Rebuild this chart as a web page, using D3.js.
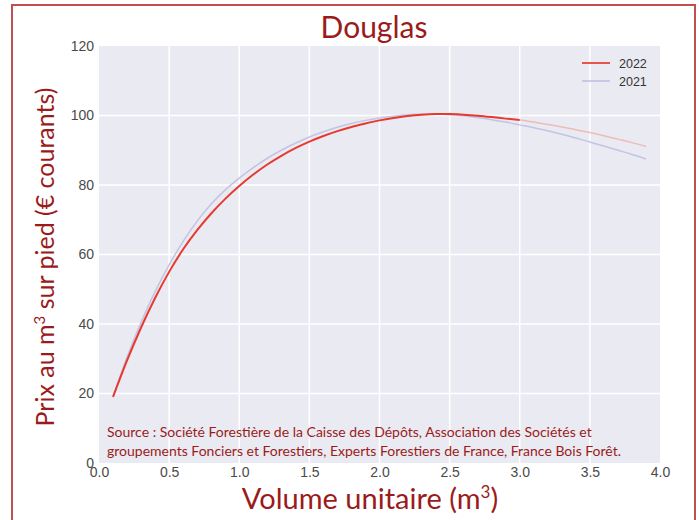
<html>
  <head>
    <script src="https://cdnjs.cloudflare.com/ajax/libs/d3/7.8.5/d3.min.js"></script>
    <style>
      body { margin: 0; background: #fff; }
      .tick text { font-family: "Liberation Sans", Arial, sans-serif; font-size: 14px; fill: #4a4a4a; }
      .dark { fill: #9b1b1b; font-family: Lato, "Open Sans", sans-serif; }
    </style>
  </head>
  <body>
    <div id="chart"></div>
    <script>
      const volumes = [0.1, 0.2, 0.3, 0.4, 0.5, 0.6, 0.7, 0.8, 0.9, 1.0, 1.1, 1.2, 1.3, 1.4, 1.5, 1.6, 1.7, 1.8, 1.9, 2.0,
        2.1, 2.2, 2.3, 2.4, 2.5, 2.6, 2.7, 2.8, 2.9, 3.0, 3.1, 3.2, 3.3, 3.4, 3.5, 3.6, 3.7, 3.8, 3.9];
      const prices2022 = [19, 29.5, 39, 47.5, 55, 61.5, 67, 71.8, 76, 79.7, 83, 85.9, 88.4, 90.6, 92.5, 94.1, 95.5, 96.7, 97.7, 98.6,
        99.3, 99.85, 100.25, 100.45, 100.45, 100.25, 99.95, 99.55, 99.1, 98.7, 98.1, 97.4, 96.7, 95.9, 95.1, 94.2, 93.2, 92.2, 91.1];
      const prices2021 = [19, 30.5, 40.5, 49.3, 57, 63.8, 69.6, 74.5, 78.6, 82, 85, 87.7, 90, 92, 93.8, 95.3, 96.6, 97.7, 98.6, 99.3,
        99.8, 100.2, 100.4, 100.4, 100.2, 99.9, 99.4, 98.8, 98.1, 97.3, 96.5, 95.6, 94.6, 93.5, 92.4, 91.2, 90, 88.8, 87.5];
      const xTicks = [0, 0.5, 1, 1.5, 2, 2.5, 3, 3.5, 4];
      const yTicks = [0, 20, 40, 60, 80, 100, 120];
      const solidUntil = 3.0;

      const w = 699, h = 520;
      const svg = d3.select("#chart").append("svg").attr("width", w).attr("height", h);

      // red frame
      svg.append("rect").attr("x", 12).attr("y", 5).attr("width", 683).attr("height", 530)
        .attr("fill", "none").attr("stroke", "#c0504d").attr("stroke-width", 2);

      const x = d3.scaleLinear().domain([0, 4]).range([99, 660]);
      const y = d3.scaleLinear().domain([0, 120]).range([463, 46]);

      svg.append("rect").attr("x", x(0)).attr("y", y(120))
        .attr("width", x(4) - x(0)).attr("height", y(0) - y(120)).attr("fill", "#eaeaf2");

      // grid
      svg.append("g").selectAll("line").data(xTicks.slice(1, -1)).enter().append("line")
        .attr("x1", d => x(d)).attr("x2", d => x(d)).attr("y1", y(120)).attr("y2", y(0))
        .attr("stroke", "#fff").attr("stroke-width", 1.5);
      svg.append("g").selectAll("line").data(yTicks.slice(1, -1)).enter().append("line")
        .attr("x1", x(0)).attr("x2", x(4)).attr("y1", d => y(d)).attr("y2", d => y(d))
        .attr("stroke", "#fff").attr("stroke-width", 1.5);

      const xAxis = svg.append("g").attr("transform", "translate(0," + y(0) + ")")
        .call(d3.axisBottom(x).tickValues(xTicks).tickFormat(d3.format(".1f")).tickSize(0).tickPadding(4));
      xAxis.select(".domain").remove();
      const yAxis = svg.append("g").attr("transform", "translate(" + x(0) + ",0)")
        .call(d3.axisLeft(y).tickValues(yTicks).tickSize(0).tickPadding(5));
      yAxis.select(".domain").remove();

      const line = d3.line().x(d => x(d[0])).y(d => y(d[1])).curve(d3.curveMonotoneX);
      const pts2021 = volumes.map((v, i) => [v, prices2021[i]]);
      const pts2022 = volumes.map((v, i) => [v, prices2022[i]]);

      svg.append("path").attr("d", line(pts2021)).attr("fill", "none")
        .attr("stroke", "#c3c3e3").attr("stroke-width", 1.5);
      svg.append("path").attr("d", line(pts2022.filter(d => d[0] >= solidUntil))).attr("fill", "none")
        .attr("stroke", "#f0a89f").attr("stroke-width", 1.5).attr("opacity", 0.7);
      svg.append("path").attr("d", line(pts2022.filter(d => d[0] <= solidUntil))).attr("fill", "none")
        .attr("stroke", "#e8392f").attr("stroke-width", 2);

      // legend
      const legend = [["2022", "#e8534a", 2], ["2021", "#bdbde0", 1.5]];
      legend.forEach((l, i) => {
        const ly = 63 + i * 18;
        svg.append("line").attr("x1", 582).attr("x2", 610).attr("y1", ly).attr("y2", ly)
          .attr("stroke", l[1]).attr("stroke-width", l[2]);
        svg.append("text").attr("x", 619).attr("y", ly + 4.5).text(l[0])
          .attr("font-family", "Liberation Sans, Arial, sans-serif").attr("font-size", 12.5).attr("fill", "#333");
      });

      // source note
      const source = ["Source : Société Forestière de la Caisse des Dépôts, Association des Sociétés et",
        "groupements Fonciers et Forestiers, Experts Forestiers de France, France Bois Forêt."];
      source.forEach((s, i) => {
        svg.append("text").attr("class", "dark").attr("x", 107).attr("y", 437 + i * 19)
          .attr("font-size", 14).text(s);
      });

      svg.append("text").attr("class", "dark").attr("x", 374).attr("y", 38)
        .attr("text-anchor", "middle").attr("font-size", 30).text("Douglas");

      const xl = svg.append("text").attr("class", "dark").attr("x", 370).attr("y", 509)
        .attr("text-anchor", "middle").attr("font-size", 29);
      xl.append("tspan").text("Volume unitaire (m");
      xl.append("tspan").attr("dy", -11).attr("font-size", 17).text("3");
      xl.append("tspan").attr("dy", 11).text(")");

      const yl = svg.append("text").attr("class", "dark")
        .attr("transform", "translate(54,257) rotate(-90)")
        .attr("text-anchor", "middle").attr("font-size", 25);
      yl.append("tspan").text("Prix au m");
      yl.append("tspan").attr("dy", -9).attr("font-size", 15).text("3");
      yl.append("tspan").attr("dy", 9).text(" sur pied (€ courants)");
    </script>
  </body>
</html>
